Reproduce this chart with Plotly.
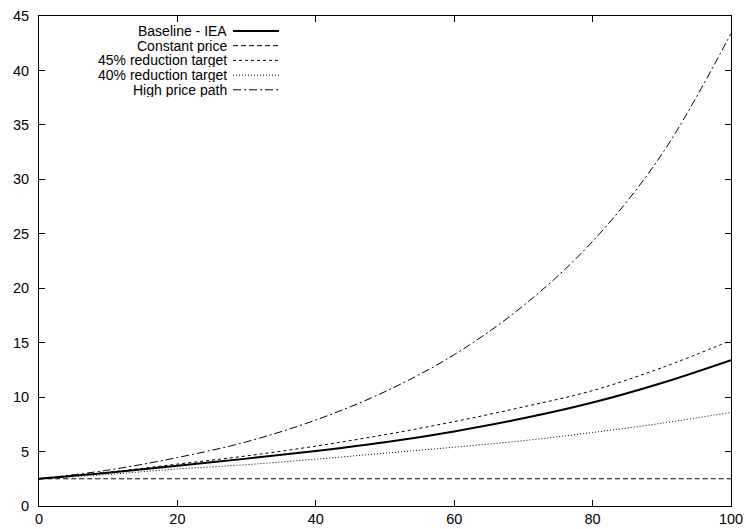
import plotly.graph_objects as go

years = [0, 10, 20, 30, 40, 50, 60, 70, 80, 90, 100]
baseline = [2.5, 3.05, 3.7, 4.35, 5.05, 5.85, 6.85, 8.05, 9.5, 11.3, 13.4]
constant = [2.5, 2.5, 2.5, 2.5, 2.5, 2.5, 2.5, 2.5, 2.5, 2.5, 2.5]
red45 = [2.5, 3.1, 3.85, 4.6, 5.5, 6.55, 7.75, 9.1, 10.6, 12.7, 15.2]
red40 = [2.5, 2.9, 3.4, 3.8, 4.3, 4.85, 5.4, 6.0, 6.75, 7.6, 8.6]
high = [2.5, 3.3, 4.45, 5.9, 7.9, 10.5, 13.9, 18.4, 24.3, 32.3, 43.4]

names = ["Baseline - IEA", "Constant price", "45% reduction target",
         "40% reduction target", "High price path"]
series = [baseline, constant, red45, red40, high]
widths = [2, 1, 1, 1, 1]
dashes = ["solid", "5px,3px", "3px,3px", "1px,2px", "8px,3px,2px,3px"]

xticks = [0, 20, 40, 60, 80, 100]
yticks = [0, 5, 10, 15, 20, 25, 30, 35, 40, 45]

FONT = "Liberation Sans, Arial, sans-serif"
FS = 14.5
W, H = 746, 529
ml, mr, mt, mb = 39, 15, 16, 23

fig = go.Figure()
for n, s, w, d in zip(names, series, widths, dashes):
    fig.add_trace(go.Scatter(x=years, y=s, mode="lines", name=n,
                             line=dict(color="black", width=w, dash=d, shape="spline", smoothing=1.0),
                             showlegend=False))

# gnuplot-style key: right-aligned text, line sample to the right
pw = W - ml - mr
ph = H - mt - mb
def px2paper_x(px):
    return (px - ml) / pw
def px2paper_y(py):
    return 1 - (py - mt) / ph

row_y = [31, 45.7, 60.4, 75.1, 89.8]
for n, w, d, ry in zip(names, widths, dashes, row_y):
    fig.add_annotation(x=px2paper_x(228), y=px2paper_y(ry), xref="paper", yref="paper",
                       text=n, showarrow=False, xanchor="right", yanchor="middle",
                       borderpad=0, height=14, valign="middle",
                       font=dict(family=FONT, size=14, color="black"))
    fig.add_shape(type="line", xref="paper", yref="paper",
                  x0=px2paper_x(233), x1=px2paper_x(279),
                  y0=px2paper_y(ry), y1=px2paper_y(ry),
                  line=dict(color="black", width=w, dash=d))

axis_common = dict(showgrid=False, zeroline=False, showline=True, linecolor="black",
                   linewidth=1, mirror="ticks", ticks="inside", ticklen=6,
                   tickcolor="black", tickwidth=1, automargin=False,
                   tickfont=dict(family=FONT, size=FS, color="black"))
fig.update_xaxes(range=[0, 100], tickvals=xticks, ticktext=[str(v) for v in xticks],
                 ticklabelstandoff=0, **axis_common)
fig.update_yaxes(range=[0, 45], tickvals=yticks, ticktext=[str(v) for v in yticks],
                 ticklabelstandoff=6, **axis_common)
fig.update_layout(width=W, height=H, margin=dict(l=ml, r=mr, t=mt, b=mb),
                  plot_bgcolor="white", paper_bgcolor="white",
                  font=dict(family=FONT, color="black"))
fig.write_html("out.html")
